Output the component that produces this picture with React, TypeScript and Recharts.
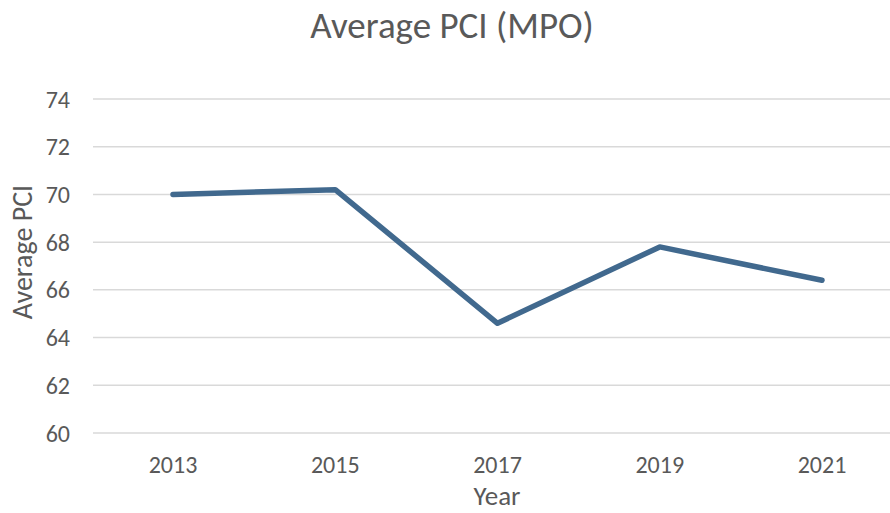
import React from "react";
import { LineChart, Line, XAxis, YAxis, CartesianGrid } from "recharts";

const years = ["2013", "2015", "2017", "2019", "2021"];
const pciValues = [70.0, 70.2, 64.6, 67.8, 66.4];
const yTicks = [60, 62, 64, 66, 68, 70, 72, 74];

const data = years.map((y, i) => ({ year: y, pci: pciValues[i] }));

const FONT = "Carlito, Calibri, 'Open Sans', sans-serif";
const TEXT = "#595959";

export default function App() {
  return (
    <div style={{ position: "absolute", left: 0, top: 0, width: 890, height: 513, background: "#fff" }}>
      <LineChart
        width={890}
        height={513}
        data={data}
        margin={{ top: 99, right: 0, bottom: 30, left: 0 }}
      >
        <text
          x={452}
          y={38}
          textAnchor="middle"
          fontFamily={FONT}
          fontSize={37}
          fill={TEXT}
        >
          Average PCI (MPO)
        </text>
        <text
          x={497}
          y={505}
          textAnchor="middle"
          fontFamily={FONT}
          fontSize={27}
          fill={TEXT}
        >
          Year
        </text>
        <text
          x={32}
          y={252}
          textAnchor="middle"
          transform="rotate(-90 32 252)"
          fontFamily={FONT}
          fontSize={28}
          fill={TEXT}
        >
          Average PCI
        </text>
        <CartesianGrid vertical={false} stroke="#d9d9d9" strokeWidth={1.5} />
        <XAxis
          dataKey="year"
          axisLine={false}
          tickLine={false}
          height={50}
          padding={{ left: 80, right: 68 }}
          tick={{ fill: TEXT, fontSize: 24, fontFamily: FONT }}
          tickMargin={17}
        />
        <YAxis
          domain={[60, 74]}
          ticks={yTicks}
          axisLine={false}
          tickLine={false}
          width={93}
          tickMargin={17}
          tick={{ fill: TEXT, fontSize: 24, fontFamily: FONT }}
        />
        <Line
          type="linear"
          dataKey="pci"
          stroke="#41698e"
          strokeWidth={5.5}
          strokeLinecap="round"
          strokeLinejoin="round"
          dot={false}
          activeDot={false}
          isAnimationActive={false}
        />
      </LineChart>
    </div>
  );
}
